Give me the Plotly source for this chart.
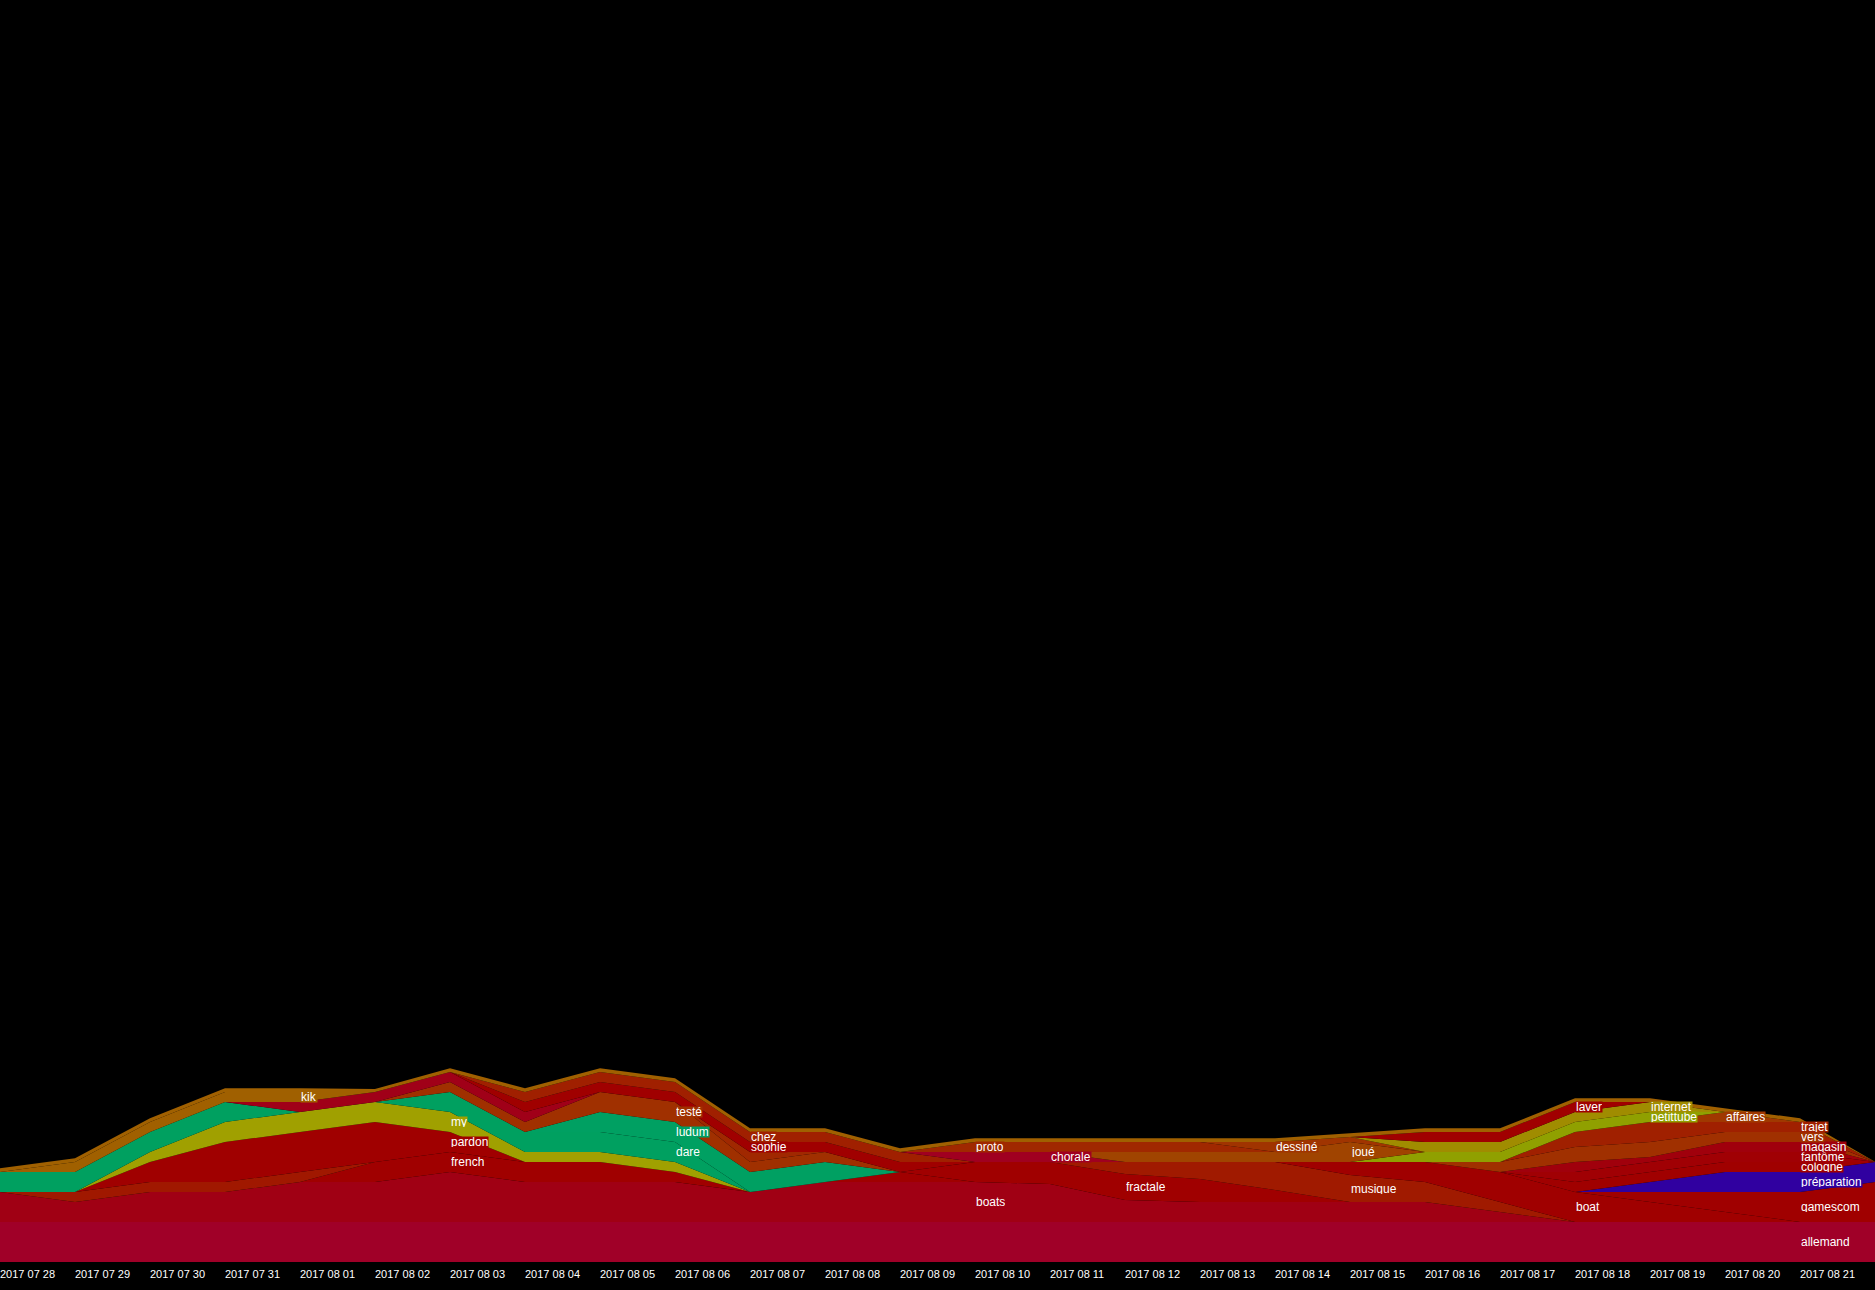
import plotly.graph_objects as go
import numpy as np

dates = ["2017-07-28", "2017-07-29", "2017-07-30", "2017-07-31", "2017-08-01", "2017-08-02",
         "2017-08-03", "2017-08-04", "2017-08-05", "2017-08-06", "2017-08-07", "2017-08-08",
         "2017-08-09", "2017-08-10", "2017-08-11", "2017-08-12", "2017-08-13", "2017-08-14",
         "2017-08-15", "2017-08-16", "2017-08-17", "2017-08-18", "2017-08-19", "2017-08-20",
         "2017-08-21", "2017-08-22"]
tick_labels = ["2017 07 28", "2017 07 29", "2017 07 30", "2017 07 31", "2017 08 01", "2017 08 02",
               "2017 08 03", "2017 08 04", "2017 08 05", "2017 08 06", "2017 08 07", "2017 08 08",
               "2017 08 09", "2017 08 10", "2017 08 11", "2017 08 12", "2017 08 13", "2017 08 14",
               "2017 08 15", "2017 08 16", "2017 08 17", "2017 08 18", "2017 08 19", "2017 08 20",
               "2017 08 21"]

# series values (bottom to top of the stack), one value per date
allemand   = [4, 4, 4, 4, 4, 4, 4, 4, 4, 4, 4, 4, 4, 4, 4, 4, 4, 4, 4, 4, 4, 4, 4, 4, 4, 4]
boats      = [3, 2, 3, 3, 4, 4, 5, 4, 4, 4, 3, 4, 4, 4, 3.8, 2.2, 2, 2, 2, 2, 1, 0, 0, 0, 0, 0]
french     = [0, 0, 0, 0, 0, 2, 2, 2, 2, 1, 0, 0, 1, 0, 0, 0, 0, 0, 0, 0, 0, 0, 0, 0, 0, 0]
w_rouge    = [0, 1, 1, 1, 1, 0, 0, 0, 0, 0, 0, 0, 0, 0, 0, 0, 0, 0, 0, 0, 0, 0, 0, 0, 0, 0]
fractale   = [0, 0, 0, 0, 0, 0, 0, 0, 0, 0, 0, 0, 0, 2, 2.2, 2.6, 2.3, 1.2, 0, 0, 0, 0, 0, 0, 0, 0]
musique    = [0, 0, 0, 0, 0, 0, 0, 0, 0, 0, 0, 0, 0, 0, 0, 1.2, 1.7, 2.8, 2.7, 2, 1, 0, 0, 0, 0, 0]
boat       = [0, 0, 0, 0, 0, 0, 0, 0, 0, 0, 0, 0, 0, 0, 0, 0, 0, 0, 1.3, 2, 3, 3, 2, 1, 0, 0]
gamescom   = [0, 0, 0, 0, 0, 0, 0, 0, 0, 0, 0, 0, 0, 0, 0, 0, 0, 0, 0, 0, 0, 0, 1, 2, 3, 4]
preparation = [0, 0, 0, 0, 0, 0, 0, 0, 0, 0, 0, 0, 0, 0, 0, 0, 0, 0, 0, 0, 0, 0, 1, 2, 2, 2]
cologne    = [0, 0, 0, 0, 0, 0, 0, 0, 0, 0, 0, 0, 0, 0, 0, 0, 0, 0, 0, 0, 0, 1, 1, 1, 1, 0]
fantome    = [0, 0, 0, 0, 0, 0, 0, 0, 0, 0, 0, 0, 0, 0, 0, 0, 0, 0, 0, 0, 0, 1, 1, 1, 1, 0]
magasin    = [0, 0, 0, 0, 0, 0, 0, 0, 0, 0, 0, 0, 0, 0, 0, 0, 0, 0, 0, 0, 0, 1, 0.5, 1, 1, 0]
vers       = [0, 0, 0, 0, 0, 0, 0, 0, 0, 0, 0, 0, 0, 0, 0, 0, 0, 0, 0, 0, 1, 1.5, 1.5, 1, 1, 0]
trajet     = [0, 0, 0, 0, 0, 0, 0, 0, 0, 0, 0, 0, 0, 0, 0, 0, 0, 0, 0, 0, 0, 1.5, 2, 1, 1, 0]
affaires   = [0, 0, 0, 0, 0, 0, 0, 0, 0, 0, 0, 0, 0, 0, 0, 0, 0, 0, 0, 0, 0, 0, 0, 1, 0, 0]
pardon     = [0, 0, 2, 4, 4, 4, 2, 0, 0, 0, 0, 0, 0, 0, 0, 0, 0, 0, 0, 0, 0, 0, 0, 0, 0, 0]
my         = [0, 0, 1, 2, 2, 2, 2, 1, 1, 1, 0, 0, 0, 0, 0, 0, 0, 0, 0, 0, 0, 0, 0, 0, 0, 0]
dare       = [2, 2, 2, 2, 0, 0, 2, 2, 2, 2, 0, 0, 0, 0, 0, 0, 0, 0, 0, 0, 0, 0, 0, 0, 0, 0]
ludum      = [0, 0, 0, 0, 0, 0, 0, 0, 2, 2, 2, 2, 0, 0, 0, 0, 0, 0, 0, 0, 0, 0, 0, 0, 0, 0]
teste      = [0, 0, 0, 0, 0, 0, 1, 1, 2, 2, 1, 1, 0, 0, 0, 0, 0, 0, 0, 0, 0, 0, 0, 0, 0, 0]
w_brun     = [0, 0, 0, 0, 0, 0, 0, 0, 0, 0, 1, 0, 0, 0, 0, 0, 0, 0, 0, 0, 0, 0, 0, 0, 0, 0]
w_carmin   = [0, 0, 0, 0, 1, 1, 1, 1, 0, 0, 0, 0, 0, 0, 0, 0, 0, 0, 0, 0, 0, 0, 0, 0, 0, 0]
kik        = [0, 1, 1, 1, 1, 0, 0, 0, 0, 0, 0, 0, 0, 0, 0, 0, 0, 0, 0, 0, 0, 0, 0, 0, 0, 0]
sophie     = [0, 0, 0, 0, 0, 0, 0, 1, 1, 1, 1, 1, 1, 0, 0, 0, 0, 0, 0, 0, 0, 0, 0, 0, 0, 0]
chez       = [0, 0, 0, 0, 0, 0, 0, 1, 1, 1, 1, 1, 1, 0, 0, 0, 0, 0, 0, 0, 0, 0, 0, 0, 0, 0]
chorale    = [0, 0, 0, 0, 0, 0, 0, 0, 0, 0, 0, 0, 0, 1, 1, 0, 0, 0, 0, 0, 0, 0, 0, 0, 0, 0]
petittube  = [0, 0, 0, 0, 0, 0, 0, 0, 0, 0, 0, 0, 0, 0, 0, 0, 0, 0, 0, 1, 1, 1, 1, 0, 0, 0]
joue       = [0, 0, 0, 0, 0, 0, 0, 0, 0, 0, 0, 0, 0, 0, 0, 1, 1, 1, 2, 0, 0, 0, 0, 0, 0, 0]
proto      = [0, 0, 0, 0, 0, 0, 0, 0, 0, 0, 0, 0, 0, 1, 1, 1, 1, 0, 0, 0, 0, 0, 0, 0, 0, 0]
dessine    = [0, 0, 0, 0, 0, 0, 0, 0, 0, 0, 0, 0, 0, 0, 0, 0, 0, 1, 0.5, 0, 0, 0, 0, 0, 0, 0]
internet   = [0, 0, 0, 0, 0, 0, 0, 0, 0, 0, 0, 0, 0, 0, 0, 0, 0, 0, 0, 1, 1, 1, 1, 0, 0, 0]
laver      = [0, 0, 0, 0, 0, 0, 0, 0, 0, 0, 0, 0, 0, 0, 0, 0, 0, 0, 0, 1, 1, 1, 0, 0, 0, 0]
w_haut     = [0.37, 0.37, 0.37, 0.37, 0.37, 0.3, 0.37, 0.37, 0.37, 0.37, 0.37, 0.37, 0.37, 0.37,
              0.37, 0.37, 0.37, 0.37, 0.37, 0.37, 0.37, 0.37, 0.37, 0.37, 0.37, 0.03]

# (word, values, colour, label date index or None)
layers = [
    ("allemand", allemand, "#A00028", 24),
    ("boats", boats, "#A00014", 13),
    ("french", french, "#A00000", 6),
    ("", w_rouge, "#A01800", None),
    ("fractale", fractale, "#A00000", 15),
    ("musique", musique, "#A01A00", 18),
    ("boat", boat, "#A00000", 21),
    ("gamescom", gamescom, "#A00000", 24),
    ("préparation", preparation, "#3000A0", 24),
    ("cologne", cologne, "#A00000", 24),
    ("fantôme", fantome, "#A00004", 24),
    ("magasin", magasin, "#A0000C", 24),
    ("vers", vers, "#A03000", 24),
    ("trajet", trajet, "#A02000", 24),
    ("affaires", affaires, "#A03800", 23),
    ("pardon", pardon, "#A00000", 6),
    ("my", my, "#A0A000", 6),
    ("dare", dare, "#00A060", 9),
    ("ludum", ludum, "#00A062", 9),
    ("testé", teste, "#A03000", 9),
    ("", w_brun, "#A02800", None),
    ("", w_carmin, "#A00018", None),
    ("kik", kik, "#A06000", 4),
    ("sophie", sophie, "#A00000", 10),
    ("chez", chez, "#A02000", 10),
    ("chorale", chorale, "#A00020", 14),
    ("petittube", petittube, "#90A000", 22),
    ("joué", joue, "#A04400", 18),
    ("proto", proto, "#A02800", 13),
    ("dessiné", dessine, "#A03400", 17),
    ("internet", internet, "#A08C00", 22),
    ("laver", laver, "#A00000", 21),
    ("", w_haut, "#A06000", None),
]

fig = go.Figure()
cum = np.zeros(len(dates))
annotations = []
for name, vals, color, lab in layers:
    v = np.array(vals, dtype=float)
    fig.add_trace(go.Scatter(
        x=dates, y=v, name=name or "autre", mode="lines", stackgroup="one",
        line=dict(width=0, color=color), fillcolor=color, hoverinfo="skip",
        showlegend=False,
    ))
    if lab is not None:
        annotations.append(dict(
            x=dates[lab], y=cum[lab] + v[lab] / 2, xref="x", yref="y",
            text=name, showarrow=False, xanchor="left", yanchor="middle",
            font=dict(family="Liberation Sans, Arial, sans-serif", size=12, color="white"),
            bgcolor=color, borderpad=0, height=10,
        ))
    cum += v

fig.update_layout(
    width=1875, height=1290,
    paper_bgcolor="black", plot_bgcolor="black",
    margin=dict(l=0, r=0, t=0, b=28),
    annotations=annotations,
    xaxis=dict(
        type="date", range=[dates[0], dates[-1]],
        tickvals=dates[:25], ticktext=tick_labels,
        ticklabelposition="outside right", ticks="", showgrid=False, zeroline=False,
        showline=False, ticklabelstandoff=4,
        tickfont=dict(family="Liberation Sans, Arial, sans-serif", size=11, color="white"),
    ),
    yaxis=dict(range=[0, 126.2], visible=False, showgrid=False, zeroline=False),
)

fig.write_html(
    "out.html",
    config={"displayModeBar": False},
    post_script="document.body.style.margin='0';document.body.style.background='black';",
)
